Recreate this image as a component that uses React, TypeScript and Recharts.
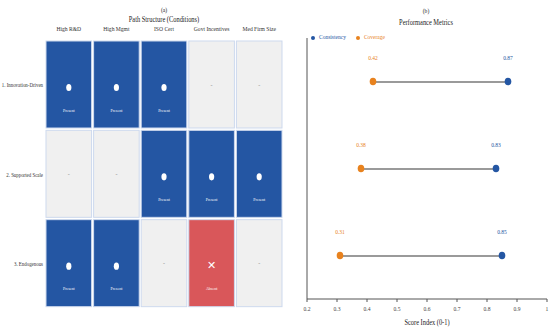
import React from "react";
import {
  Bar,
  BarChart,
  ComposedChart,
  LabelList,
  Legend,
  Scatter,
  XAxis,
  YAxis,
} from "recharts";

const paths = ["1. Innovation-Driven", "2. Supported Scale", "3. Endogenous"];
const conditions = ["High R&D", "High Mgmt", "ISO Cert", "Govt Incentives", "Med Firm Size"];
// P = present, A = absent, - = don't care
const pathStatus = [
  ["P", "P", "P", "-", "-"],
  ["-", "-", "P", "P", "P"],
  ["P", "P", "-", "A", "-"],
];
const consistency = [0.87, 0.83, 0.85];
const coverage = [0.42, 0.38, 0.31];
const scoreTicks = [0.2, 0.3, 0.4, 0.5, 0.6, 0.7, 0.8, 0.9, 1];

const FONT = "'Liberation Serif', 'Times New Roman', serif";
const BLUE = "#2456a3";
const ORANGE = "#e8821e";
const RED = "#d9575a";
const GREY = "#f0f0f0";
const SQUEEZE = 0.8;

const gridData = paths.map((path, r) => {
  const row: Record<string, string | number> = { path };
  conditions.forEach((_, c) => {
    row["c" + c] = 1;
    row["s" + c] = pathStatus[r][c];
  });
  return row;
});

const metricData = paths.map((path, i) => ({
  path,
  consistency: consistency[i],
  coverage: coverage[i],
  range: [coverage[i], consistency[i]],
}));

// narrow serif text, like the condensed Times in the original
function NarrowText({ x, y, anchor, size, fill, squeeze = SQUEEZE, children }: any) {
  return (
    <text
      transform={`translate(${x},${y}) scale(${squeeze},1)`}
      textAnchor={anchor}
      fontSize={size}
      fill={fill}
      fontFamily={FONT}
    >
      {children}
    </text>
  );
}

const rowTick = (props: any) => (
  <NarrowText x={props.x} y={props.y + 2.5} anchor="end" size={6.8} squeeze={0.72} fill="#333">
    {props.payload.value}
  </NarrowText>
);

const headerTick = (props: any) => (
  <NarrowText x={props.x} y={props.y - 1} anchor="middle" size={7} fill="#333">
    {conditions[Math.floor(props.payload.value)]}
  </NarrowText>
);

const scoreTick = (props: any) => (
  <NarrowText x={props.x} y={props.y + 7} anchor="middle" size={7} fill="#444">
    {String(props.payload.value)}
  </NarrowText>
);

const scoreLabel = (props: any) => {
  const vb = props.viewBox;
  return (
    <NarrowText x={vb.x + vb.width / 2} y={vb.y + vb.height - 3} anchor="middle" size={8} fill="#222">
      Score Index (0-1)
    </NarrowText>
  );
};

function makeCell(col: number) {
  return (props: any) => {
    const { x, y, width, height, payload } = props;
    const status = payload["s" + col];
    const fill = status === "P" ? BLUE : status === "A" ? RED : GREY;
    const cx = x + width / 2;
    const cy = y + height / 2;
    return (
      <g>
        <rect x={x + 1} y={y + 1} width={width - 2} height={height - 2} fill={fill} stroke="#cdd9ee" strokeWidth={1} />
        {status === "P" && <ellipse cx={cx} cy={cy + 3} rx={2.6} ry={3.6} fill="#fff" />}
        {status === "A" && (
          <text x={cx} y={cy + 6} textAnchor="middle" fontSize={11} fontWeight="bold" fill="#fff" fontFamily="DejaVu Sans">
            ✕
          </text>
        )}
        {status === "-" && (
          <text x={cx} y={cy + 2} textAnchor="middle" fontSize={6} fill="#888" fontFamily={FONT}>
            -
          </text>
        )}
        {status !== "-" && (
          <NarrowText x={cx} y={cy + 27} anchor="middle" size={5} fill="#fff">
            {status === "P" ? "Present" : "Absent"}
          </NarrowText>
        )}
      </g>
    );
  };
}

const dot = (color: string) => (props: any) => <ellipse cx={props.cx} cy={props.cy} rx={3.3} ry={3.8} fill={color} />;

const titleStyle: React.CSSProperties = {
  position: "absolute",
  fontFamily: FONT,
  color: "#222",
  textAlign: "center",
  lineHeight: "10px",
  transform: `scaleX(${SQUEEZE})`,
};

export default function App() {
  return (
    <div style={{ position: "fixed", left: 0, top: 0, width: 550, height: 328, background: "#fff" }}>
      <div style={{ ...titleStyle, left: 64, top: 5, width: 200, fontSize: 7 }}>
        (a)
        <br />
        <span style={{ fontSize: 8 }}>Path Structure (Conditions)</span>
      </div>
      <div style={{ ...titleStyle, left: 326, top: 6, width: 200, fontSize: 7, lineHeight: "11px" }}>
        (b)
        <br />
        <span style={{ fontSize: 8 }}>Performance Metrics</span>
      </div>

      <div style={{ position: "absolute", left: 0, top: 0 }}>
        <BarChart
          width={290}
          height={328}
          data={gridData}
          layout="vertical"
          margin={{ top: 28, right: 7, bottom: 20, left: 0 }}
          barCategoryGap={0}
        >
          <XAxis
            type="number"
            orientation="top"
            domain={[0, conditions.length]}
            ticks={conditions.map((_, i) => i + 0.5)}
            axisLine={false}
            tickLine={false}
            height={12}
            tick={headerTick}
            interval={0}
          />
          <YAxis
            type="category"
            dataKey="path"
            axisLine={false}
            tickLine={false}
            tickSize={0}
            tickMargin={2}
            width={45}
            tick={rowTick}
          />
          {conditions.map((_, c) => (
            <Bar key={c} dataKey={"c" + c} stackId="grid" isAnimationActive={false} shape={makeCell(c)} />
          ))}
        </BarChart>
      </div>

      <div style={{ position: "absolute", left: 280, top: 0 }}>
        <ComposedChart
          width={270}
          height={328}
          data={metricData}
          layout="vertical"
          margin={{ top: 30, right: 3, bottom: 0, left: 23 }}
        >
          <XAxis
            type="number"
            domain={[0.2, 1]}
            ticks={scoreTicks}
            stroke="#555"
            tickSize={3}
            height={29}
            tick={scoreTick}
            interval={0}
            label={{ content: scoreLabel }}
            allowDataOverflow
          />
          <YAxis type="category" dataKey="path" width={4} tick={false} tickSize={3} stroke="#555" />
          <Legend
            verticalAlign="top"
            align="left"
            iconType="circle"
            iconSize={4}
            wrapperStyle={{ top: 33, left: 31, width: 120, fontSize: 5.5, fontFamily: FONT, color: "#333", lineHeight: "8px" }}
            payload={[
              { value: "Consistency", type: "circle", color: BLUE },
              { value: "Coverage", type: "circle", color: ORANGE },
            ]}
          />
          <Bar dataKey="range" barSize={2} fill="#9a9a9a" isAnimationActive={false} legendType="none" />
          <Scatter name="Coverage" dataKey="coverage" fill={ORANGE} shape={dot(ORANGE)} isAnimationActive={false}>
            <LabelList dataKey="coverage" position="top" offset={17} fill={ORANGE} fontSize={5.5} fontFamily={FONT} formatter={(v: any) => Number(v).toFixed(2)} />
          </Scatter>
          <Scatter name="Consistency" dataKey="consistency" fill={BLUE} shape={dot(BLUE)} isAnimationActive={false}>
            <LabelList dataKey="consistency" position="top" offset={17} fill={BLUE} fontSize={5.5} fontFamily={FONT} formatter={(v: any) => Number(v).toFixed(2)} />
          </Scatter>
        </ComposedChart>
      </div>
    </div>
  );
}
